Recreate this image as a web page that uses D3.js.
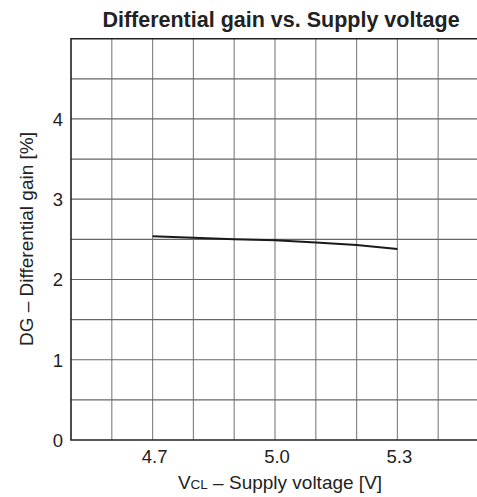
<!DOCTYPE html>
<html>
<head>
<meta charset="utf-8">
<script src="https://cdn.jsdelivr.net/npm/d3@7"></script>
<style>
  body { margin: 0; background: white; }
  text { font-family: "Liberation Sans", Arial, sans-serif; fill: #222; }
</style>
</head>
<body>
<div id="chart"></div>
<script>
// supply voltage [V] and differential gain [%]
const voltage = [4.7, 4.8, 4.9, 5.0, 5.1, 5.2, 5.3];
const gain = [2.54, 2.52, 2.50, 2.49, 2.46, 2.43, 2.38];

const xTicks = [4.7, 5.0, 5.3];
const yTicks = [0, 1, 2, 3, 4];

const width = 477, height = 497;
const plotLeft = 71, plotRight = 479, plotTop = 38.7, plotBottom = 440;

const svg = d3.select("#chart")
    .append("svg")
    .attr("width", width)
    .attr("height", height);

const x = d3.scaleLinear().domain([4.5, 5.5]).range([plotLeft, plotRight]);
const y = d3.scaleLinear().domain([0, 5]).range([plotBottom, plotTop]);

// grid
svg.append("g")
    .selectAll("line")
    .data(d3.range(4.6, 5.5, 0.1))
    .join("line")
    .attr("x1", d => x(d))
    .attr("x2", d => x(d))
    .attr("y1", plotTop)
    .attr("y2", plotBottom)
    .attr("stroke", "#888")
    .attr("stroke-width", 1.2);

svg.append("g")
    .selectAll("line")
    .data(d3.range(0.5, 5, 0.5))
    .join("line")
    .attr("x1", plotLeft)
    .attr("x2", plotRight)
    .attr("y1", d => y(d))
    .attr("y2", d => y(d))
    .attr("stroke", "#666")
    .attr("stroke-width", 1.2);

// frame: top, left, bottom
svg.append("path")
    .attr("fill", "none")
    .attr("stroke", "#222")
    .attr("stroke-width", 1.6)
    .attr("d", `M${plotRight},${plotTop}H${plotLeft}V${plotBottom}H${plotRight}`);

// tick labels
svg.append("g")
    .selectAll("text")
    .data(xTicks)
    .join("text")
    .attr("x", d => x(d) + 2)
    .attr("y", 463)
    .attr("text-anchor", "middle")
    .attr("font-size", "18.5px")
    .text(d => d.toFixed(1));

svg.append("g")
    .selectAll("text")
    .data(yTicks)
    .join("text")
    .attr("x", 63)
    .attr("y", d => y(d) + 7)
    .attr("text-anchor", "end")
    .attr("font-size", "18.5px")
    .text(d => d);

// data line
svg.append("path")
    .datum(voltage.map((v, i) => [v, gain[i]]))
    .attr("fill", "none")
    .attr("stroke", "#1a1a1a")
    .attr("stroke-width", 2)
    .attr("d", d3.line()
        .x(d => x(d[0]))
        .y(d => y(d[1])));

// titles
svg.append("text")
    .attr("x", 281)
    .attr("y", 27)
    .attr("text-anchor", "middle")
    .attr("font-size", "21.5px")
    .attr("font-weight", "bold")
    .text("Differential gain vs. Supply voltage");

let xLabel = svg.append("text")
    .attr("x", 280)
    .attr("y", 489)
    .attr("text-anchor", "middle")
    .attr("font-size", "19px");
xLabel.append("tspan").text("V");
xLabel.append("tspan").attr("font-size", "13.5px").text("CL");
xLabel.append("tspan").text(" \u2013 Supply voltage [V]");

svg.append("text")
    .attr("transform", "translate(33,239) rotate(-90)")
    .attr("text-anchor", "middle")
    .attr("font-size", "19px")
    .text("DG \u2013 Differential gain [%]");
</script>
</body>
</html>
